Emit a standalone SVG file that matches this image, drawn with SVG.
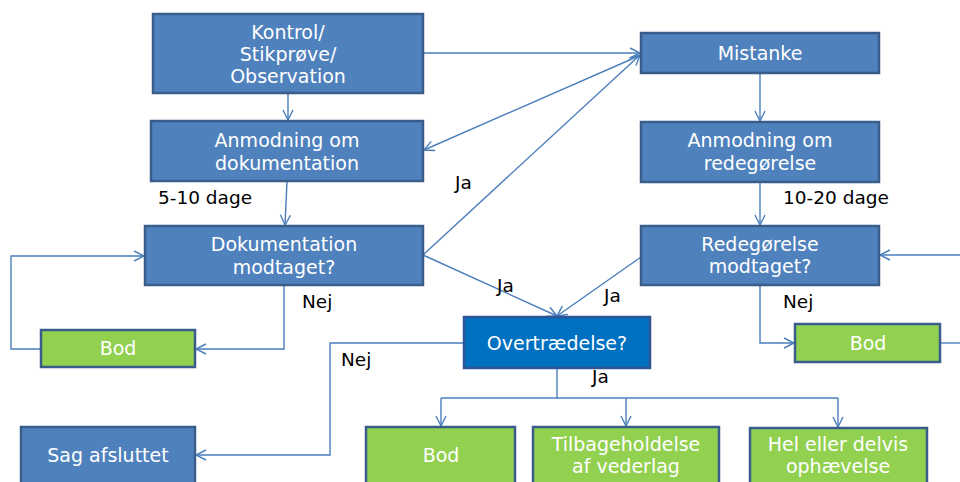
<svg xmlns="http://www.w3.org/2000/svg" width="960" height="482" viewBox="0 0 960 482">
<defs>
<marker id="arr" viewBox="0 0 12 12" refX="11" refY="6" markerWidth="12" markerHeight="12" markerUnits="userSpaceOnUse" orient="auto">
<path d="M1,1 L11,6 L1,11" fill="none" stroke="#4A7EBB" stroke-width="1.4"/>
</marker>
<style>
.box{fill:#4F81BD;stroke:#385D8A;stroke-width:2.5}
.dark{fill:#0070C0;stroke:#2F5597;stroke-width:2.5}
.green{fill:#92D050;stroke:#385D8A;stroke-width:2.5}
.t{font-family:"DejaVu Sans",sans-serif;font-size:19px;fill:#FFFFFF;text-anchor:middle}
.l{font-family:"DejaVu Sans",sans-serif;font-size:18.5px;fill:#000000}
.c{fill:none;stroke:#4A7EBB;stroke-width:1.4}
</style>
</defs>
<rect width="960" height="482" fill="#FFFFFF"/>
<g id="connectors">
<path class="c" d="M288,93 L288,120" marker-end="url(#arr)"/>
<path class="c" d="M287,181 L285,225" marker-end="url(#arr)"/>
<path class="c" d="M423,53 L640,53" marker-end="url(#arr)"/>
<path class="c" d="M641,55 L424,150" marker-end="url(#arr)"/>
<path class="c" d="M423,255 L640,55" marker-end="url(#arr)"/>
<path class="c" d="M423,255 L557,316" marker-end="url(#arr)"/>
<path class="c" d="M641,257 L557,316" marker-end="url(#arr)"/>
<path class="c" d="M760,73 L760,121" marker-end="url(#arr)"/>
<path class="c" d="M760,182 L760,225" marker-end="url(#arr)"/>
<path class="c" d="M760,285 L760,343 L794,343" marker-end="url(#arr)"/>
<path class="c" d="M940,343 L966,343"/>
<path class="c" d="M966,255 L880,255" marker-end="url(#arr)"/>
<path class="c" d="M284,285 L284,349 L196,349" marker-end="url(#arr)"/>
<path class="c" d="M41,349 L11,349 L11,256 L144,256" marker-end="url(#arr)"/>
<path class="c" d="M464,343 L330,343 L330,455 L196,455" marker-end="url(#arr)"/>
<path class="c" d="M557,368 L557,398"/>
<path class="c" d="M441,398 L838,398"/>
<path class="c" d="M441,398 L441,426" marker-end="url(#arr)"/>
<path class="c" d="M626,398 L626,426" marker-end="url(#arr)"/>
<path class="c" d="M838,398 L838,427" marker-end="url(#arr)"/>
</g>
<g id="kontrol"><rect class="box" x="153" y="14" width="270" height="79"/>
<text class="t" x="288" y="39">Kontrol/</text><text class="t" x="288" y="61">Stikprøve/</text><text class="t" x="288" y="83">Observation</text></g>
<g id="anmodning-dok"><rect class="box" x="151" y="121" width="272" height="60"/>
<text class="t" x="287" y="147">Anmodning om</text><text class="t" x="287" y="170">dokumentation</text></g>
<g id="dok-modtaget"><rect class="box" x="145" y="226" width="278" height="59"/>
<text class="t" x="284" y="251">Dokumentation</text><text class="t" x="284" y="274">modtaget?</text></g>
<g id="bod-left"><rect class="green" x="41" y="330" width="154" height="37"/>
<text class="t" x="118" y="355">Bod</text></g>
<g id="sag-afsluttet"><rect class="box" x="21" y="427" width="174" height="62"/>
<text class="t" x="108" y="462">Sag afsluttet</text></g>
<g id="overtraedelse"><rect class="dark" x="464" y="317" width="186" height="51"/>
<text class="t" x="557" y="350">Overtrædelse?</text></g>
<g id="bod-mid"><rect class="green" x="366" y="427" width="149" height="62"/>
<text class="t" x="441" y="462">Bod</text></g>
<g id="tilbageholdelse"><rect class="green" x="533" y="427" width="186" height="62"/>
<text class="t" x="626" y="451">Tilbageholdelse</text><text class="t" x="626" y="473">af vederlag</text></g>
<g id="ophaevelse"><rect class="green" x="750" y="428" width="177" height="62"/>
<text class="t" x="838" y="451">Hel eller delvis</text><text class="t" x="838" y="473">ophævelse</text></g>
<g id="mistanke"><rect class="box" x="641" y="33" width="238" height="40"/>
<text class="t" x="760" y="60">Mistanke</text></g>
<g id="anmodning-red"><rect class="box" x="641" y="122" width="238" height="60"/>
<text class="t" x="760" y="147">Anmodning om</text><text class="t" x="760" y="170">redegørelse</text></g>
<g id="red-modtaget"><rect class="box" x="641" y="226" width="238" height="59"/>
<text class="t" x="760" y="251">Redegørelse</text><text class="t" x="760" y="273">modtaget?</text></g>
<g id="bod-right"><rect class="green" x="795" y="324" width="145" height="38"/>
<text class="t" x="868" y="350">Bod</text></g>
<g id="labels">
<text class="l" x="158" y="204">5-10 dage</text>
<text class="l" x="783" y="204">10-20 dage</text>
<text class="l" x="455" y="189">Ja</text>
<text class="l" x="497" y="292">Ja</text>
<text class="l" x="604" y="302">Ja</text>
<text class="l" x="592" y="383">Ja</text>
<text class="l" x="302" y="308">Nej</text>
<text class="l" x="341" y="366">Nej</text>
<text class="l" x="783" y="308">Nej</text>
</g>
</svg>
